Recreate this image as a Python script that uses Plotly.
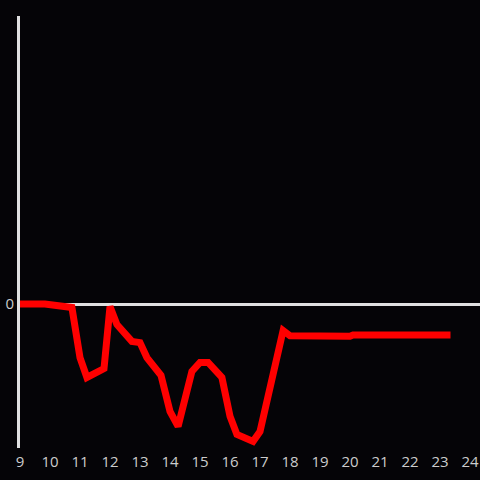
import plotly.graph_objects as go

hours = [9.0, 9.83, 10.73, 11.0, 11.23, 11.8, 12.0, 12.23, 12.73, 13.0, 13.23, 13.7,
         14.0, 14.27, 14.73, 15.0, 15.27, 15.73, 16.0, 16.23, 16.77, 17.0, 17.77,
         18.0, 20.0, 20.1, 23.35]
values = [0.0, 0.0, -0.012, -0.186, -0.255, -0.224, -0.009, -0.071, -0.13, -0.134,
          -0.186, -0.248, -0.373, -0.425, -0.234, -0.203, -0.203, -0.255, -0.39,
          -0.453, -0.477, -0.443, -0.092, -0.11, -0.112, -0.108, -0.108]
x_ticks = list(range(9, 25))

fig = go.Figure(go.Scatter(x=hours, y=values, mode="lines",
                           line=dict(color="#ff0000", width=7), hoverinfo="skip"))

fig.update_layout(
    width=480, height=480,
    paper_bgcolor="#050407", plot_bgcolor="#050407",
    margin=dict(l=20, r=0, t=16, b=32),
    showlegend=False,
    font=dict(family="Open Sans", size=15, color="#cccccc"),
    xaxis=dict(range=[9, 24.333], tickvals=x_ticks, showgrid=False, zeroline=False,
               showline=False, ticks="", ticklabelstandoff=3),
    yaxis=dict(range=[-0.5, 1], tickvals=[0], showgrid=False, zeroline=True,
               zerolinecolor="#e0e0e0", zerolinewidth=3, showline=True,
               linecolor="#e0e0e0", linewidth=3, ticks=""),
)
fig.write_html("out.html", config={"displayModeBar": False},
               post_script="document.body.style.margin='0';document.body.style.background='#050407';")
